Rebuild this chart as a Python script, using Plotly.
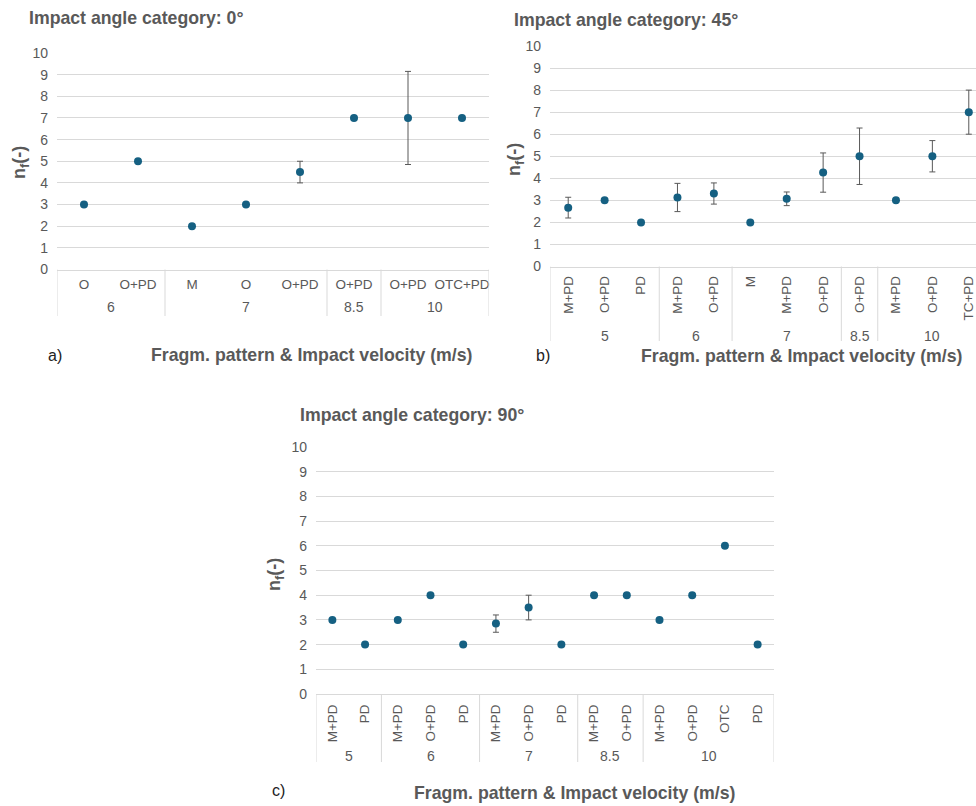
import plotly.graph_objects as go

# ---------------- data ----------------
# Panel a) impact angle 0°
a_vel = ["6", "6", "7", "7", "7", "8.5", "10", "10"]
a_pat = ["O", "O+PD", "M", "O", "O+PD", "O+PD", "O+PD", "OTC+PD"]
a_nf = [3, 5, 2, 3, 4.5, 7, 7, 7]
a_err = [0, 0, 0, 0, 0.5, 0, 2.15, 0]

# Panel b) impact angle 45°
b_vel = ["5", "5", "5", "6", "6", "7", "7", "7", "8.5", "10", "10", "10"]
b_pat = ["M+PD", "O+PD", "PD", "M+PD", "O+PD", "M", "M+PD", "O+PD", "O+PD", "M+PD", "O+PD", "TC+PD"]
b_nf = [2.67, 3, 2, 3.13, 3.31, 2, 3.07, 4.26, 5, 3, 5, 7]
b_err = [0.47, 0, 0, 0.64, 0.48, 0, 0.31, 0.89, 1.28, 0, 0.71, 1.0]

# Panel c) impact angle 90°
c_vel = ["5", "5", "6", "6", "6", "7", "7", "7", "8.5", "8.5", "10", "10", "10", "10"]
c_pat = ["M+PD", "PD", "M+PD", "O+PD", "PD", "M+PD", "O+PD", "PD", "M+PD", "O+PD", "M+PD", "O+PD", "OTC", "PD"]
c_nf = [3, 2, 3, 4, 2, 2.85, 3.5, 2, 4, 4, 3, 4, 6, 2]
c_err = [0, 0, 0, 0, 0, 0.35, 0.5, 0, 0, 0, 0, 0, 0, 0]

y_ticks = list(range(0, 11))

# ---------------- styling ----------------
W, H = 976, 806
MARK = "#156082"
GREY = "#595959"
GRID = "#d9d9d9"
FONT = "Liberation Sans, Arial, sans-serif"


def px(x):
    return x / W


def py(y):
    return 1 - y / H


fig = go.Figure()
ann = []
shapes = []

dom_bottom = {"": 269.5, "2": 266.5, "3": 694}

# (vel, pat, nf, err, axis suffix, group-label y, divider bottom y)
panels = [
    (a_vel, a_pat, a_nf, a_err, "", 307, 316),
    (b_vel, b_pat, b_nf, b_err, "2", 336, 341),
    (c_vel, c_pat, c_nf, c_err, "3", 756, 762),
]
for vel, pat, nf, err, sfx, gy, dbot in panels:
    idx = list(range(len(pat)))
    fig.add_trace(go.Scatter(
        x=idx, y=nf, mode="markers",
        marker=dict(color=MARK, size=8),
        error_y=dict(type="data", array=err, visible=True, color=GREY,
                     thickness=1, width=3),
        xaxis="x" + sfx, yaxis="y" + sfx, showlegend=False,
    ))
    # velocity groups
    groups = []
    for i, v in enumerate(vel):
        if groups and groups[-1][0] == v:
            groups[-1][2] = i
        else:
            groups.append([v, i, i])
    for v, i0, i1 in groups:
        ann.append(dict(text=v, x=(i0 + i1) / 2, y=py(gy), xref="x" + sfx, yref="paper",
                        showarrow=False, xanchor="center", yanchor="middle",
                        font=dict(family=FONT, size=14, color=GREY)))
    bounds = [g[1] - 0.5 for g in groups] + [groups[-1][2] + 0.5]
    for b in bounds:
        shapes.append(dict(type="line", xref="x" + sfx, yref="paper",
                           x0=b, x1=b, y0=py(dom_bottom[sfx]), y1=py(dbot),
                           line=dict(color=GRID, width=1)))

nb = len(b_pat)
b_range = [-0.5, -0.5 + nb * (976 - 550) / 437]

x_common = dict(showgrid=False, showline=True, zeroline=False, automargin=False,
                linecolor=GRID, linewidth=1, ticks="", ticklabeloverflow="allow",
                tickfont=dict(family=FONT, size=13.5, color=GREY))
y_common = dict(range=[0, 10], tickvals=y_ticks, showgrid=True, gridcolor=GRID,
                gridwidth=1, zeroline=False, showline=False, ticks="",
                automargin=False, ticklabelstandoff=8,
                tickfont=dict(family=FONT, size=14, color=GREY))

fig.update_layout(
    template="none",
    width=W, height=H, margin=dict(l=0, r=0, t=0, b=0, pad=0, autoexpand=False),
    paper_bgcolor="white", plot_bgcolor="white",
    xaxis=dict(domain=[px(57), px(489)], anchor="y", range=[-0.5, len(a_pat) - 0.5],
               tickvals=list(range(len(a_pat))), ticktext=a_pat,
               tickangle=0, ticklabelstandoff=2, **x_common),
    yaxis=dict(domain=[py(dom_bottom[""]), py(53)], anchor="x", **y_common),
    xaxis2=dict(domain=[px(550), 1.0], anchor="y2", range=b_range,
                tickvals=list(range(len(b_pat))), ticktext=b_pat,
                tickangle=-90, ticklabelstandoff=3, **x_common),
    yaxis2=dict(domain=[py(dom_bottom["2"]), py(46)], anchor="x2", **y_common),
    xaxis3=dict(domain=[px(316), px(774)], anchor="y3", range=[-0.5, len(c_pat) - 0.5],
                tickvals=list(range(len(c_pat))), ticktext=c_pat,
                tickangle=-90, ticklabelstandoff=4, **x_common),
    yaxis3=dict(domain=[py(dom_bottom["3"]), py(447)], anchor="x3", **y_common),
)


def add_text(text, x, y, size=17.7, bold=True, color=GREY, angle=0, xanchor="left"):
    ann.append(dict(text=f"<b>{text}</b>" if bold else text, x=px(x), y=py(y),
                    xref="paper", yref="paper", showarrow=False, textangle=angle,
                    xanchor=xanchor, yanchor="middle",
                    font=dict(family=FONT, size=size, color=color)))


add_text("Impact angle category: 0°", 27, 18)
add_text("Impact angle category: 45°", 512, 20)
add_text("Impact angle category: 90°", 298, 415)

for x, y in [(21, 163), (515, 160), (275, 575)]:
    add_text("n<sub>f</sub>(-)", x, y, size=18, angle=-90, xanchor="center")

for x, y in [(312, 355), (802, 356), (575, 793)]:
    add_text("Fragm. pattern &amp; Impact velocity (m/s)", x, y, xanchor="center")

for t, x, y in [("a)", 55, 356), ("b)", 543, 356), ("c)", 278, 790)]:
    add_text(t, x, y, size=16, bold=False, color="#222222", xanchor="center")

fig.update_layout(annotations=ann, shapes=shapes)
fig.write_html("out.html")
